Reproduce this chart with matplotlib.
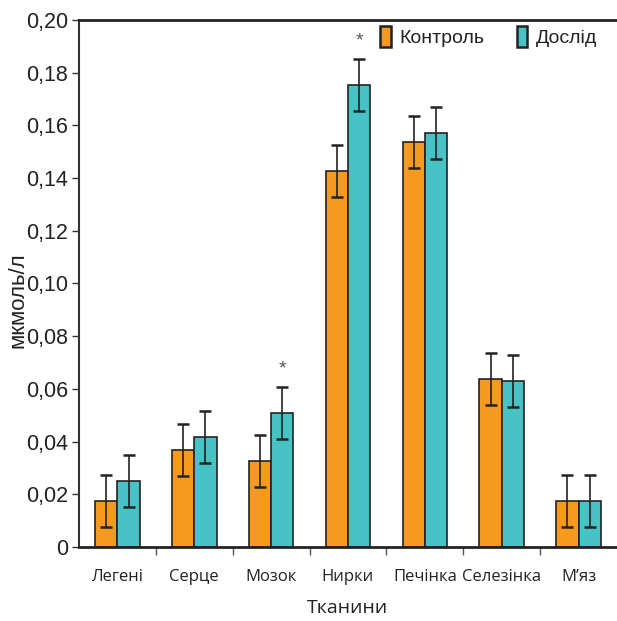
import matplotlib
matplotlib.use("Agg")
import matplotlib.pyplot as plt
import numpy as np
from matplotlib.patches import Patch
from matplotlib.ticker import FuncFormatter

plt.rcParams["font.family"] = ["Liberation Sans", "DejaVu Sans"]

categories = ["Легені", "Серце", "Мозок", "Нирки", "Печінка", "Селезінка", "М\u2019яз"]
control = [0.0175, 0.0368, 0.0326, 0.1427, 0.1537, 0.0638, 0.0175]
experiment = [0.0250, 0.0417, 0.0509, 0.1753, 0.1571, 0.0630, 0.0175]
control_err = [0.010, 0.010, 0.010, 0.010, 0.010, 0.010, 0.010]
experiment_err = [0.010, 0.010, 0.010, 0.010, 0.010, 0.010, 0.010]
significant = [False, False, True, True, False, False, False]
series_names = ["Контроль", "Дослід"]
y_ticks = [0, 0.02, 0.04, 0.06, 0.08, 0.10, 0.12, 0.14, 0.16, 0.18, 0.20]

c_orange = "#F59A1E"
c_teal = "#48C3C5"
edge = "#222222"

fig = plt.figure(figsize=(6.17, 6.21), dpi=100)
ax = fig.add_axes([0.128, 0.1192, 0.872, 0.8486])

x = np.arange(len(categories))
w = 0.29
ax.bar(x - w / 2, control, w, color=c_orange, edgecolor=edge, linewidth=1.2, zorder=2)
ax.bar(x + w / 2, experiment, w, color=c_teal, edgecolor=edge, linewidth=1.2, zorder=2)
ax.errorbar(x - w / 2, control, yerr=control_err, fmt="none", ecolor="#222222",
            elinewidth=1.2, capsize=4.5, capthick=1.8, zorder=3)
ax.errorbar(x + w / 2, experiment, yerr=experiment_err, fmt="none", ecolor="#222222",
            elinewidth=1.2, capsize=4.5, capthick=1.8, zorder=3)

for i, s in enumerate(significant):
    if s:
        ax.text(x[i] + w / 2, experiment[i] + experiment_err[i] + 0.0035, "*",
                ha="center", va="bottom", fontsize=14, color="#555555")

ax.set_xlim(-0.5, len(categories) - 0.5)
ax.set_ylim(0, 0.20)
ax.set_yticks(y_ticks)
ax.yaxis.set_major_formatter(FuncFormatter(lambda v, p: "0" if abs(v) < 1e-9 else f"{v:.2f}".replace(".", ",")))
ax.tick_params(axis="y", direction="out", length=5, width=1, color="#333333", pad=3,
               labelsize=15.5, labelcolor="#222222")

ax.set_xticks(np.arange(len(categories) - 1) + 0.5)
ax.set_xticklabels([])
ax.set_xticks(x, minor=True)
ax.set_xticklabels(categories, minor=True, family="Open Sans", fontsize=12, color="#222222")
ax.tick_params(axis="x", which="major", direction="out", length=6, width=1, color="#555555")
ax.tick_params(axis="x", which="minor", length=0, pad=16)

ax.spines["right"].set_visible(False)
ax.spines["top"].set_color("#222222")
ax.spines["top"].set_linewidth(2)
ax.spines["left"].set_color("#333333")
ax.spines["left"].set_linewidth(1.5)
ax.spines["bottom"].set_color("#222222")
ax.spines["bottom"].set_linewidth(2)

ax.set_xlabel("Тканини", family="Open Sans", fontsize=14, color="#222222", labelpad=10)
ax.set_ylabel("мкмоль/л", fontsize=16, color="#222222")
ax.yaxis.set_label_coords(-0.094, 0.469)

handles = [Patch(facecolor=c_orange, edgecolor=edge, linewidth=1.8),
           Patch(facecolor=c_teal, edgecolor=edge, linewidth=1.8)]
leg = ax.legend(handles, series_names, loc="center left", bbox_to_anchor=(0.527, 0.968),
                ncol=2, frameon=False, handlelength=0.55, handleheight=1.25,
                handletextpad=0.45, columnspacing=1.65,
                prop={"size": 14})
for t in leg.get_texts():
    t.set_color("#222222")

fig.savefig("out.png", dpi=100, facecolor="white")
